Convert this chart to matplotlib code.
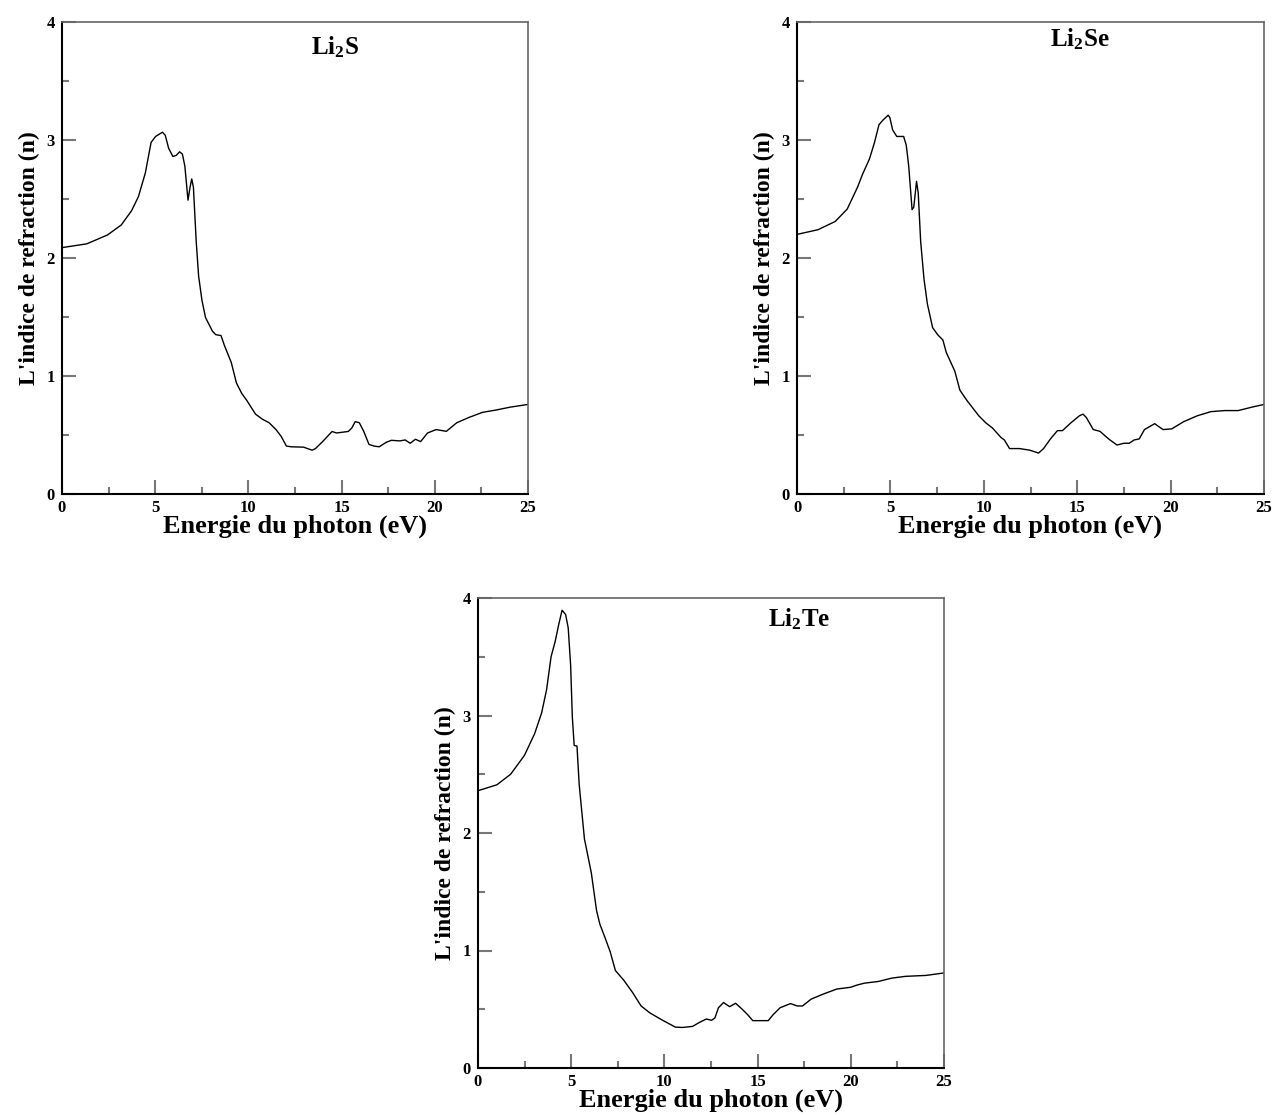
import numpy as np
import matplotlib
matplotlib.use('Agg')
import matplotlib.pyplot as plt

plt.rcParams['font.family'] = 'Liberation Serif'
plt.rcParams['font.weight'] = 'bold'
plt.rcParams['mathtext.fontset'] = 'custom'
plt.rcParams['mathtext.rm'] = 'Liberation Serif:bold'
plt.rcParams['mathtext.bf'] = 'Liberation Serif:bold'
plt.rcParams['mathtext.it'] = 'Liberation Serif:bold'

# Li2S
e_s = [0, 1.33, 2.44, 3.18, 3.73, 4.1, 4.47, 4.78, 5.02, 5.39, 5.54, 5.72, 5.95, 6.13,
       6.31, 6.46, 6.59, 6.76, 6.87, 6.96, 7.05, 7.2, 7.33, 7.51, 7.7, 8.07, 8.25, 8.53,
       8.71, 9.08, 9.36, 9.64, 9.91, 10.38, 10.75, 11.11, 11.48, 11.76, 12.04, 12.31,
       12.96, 13.42, 13.6, 13.98, 14.49, 14.72, 15.36, 15.55, 15.73, 15.95, 16.19, 16.47,
       16.75, 17.02, 17.39, 17.67, 18.13, 18.41, 18.68, 18.96, 19.24, 19.61, 20.07, 20.62,
       21.18, 21.82, 22.56, 23.3, 24.04, 25]
n_s = [2.088, 2.12, 2.195, 2.28, 2.40, 2.52, 2.72, 2.98, 3.03, 3.066, 3.04, 2.93, 2.86, 2.87,
       2.90, 2.88, 2.78, 2.49, 2.60, 2.67, 2.60, 2.14, 1.845, 1.64, 1.495, 1.38, 1.35, 1.343,
       1.26, 1.115, 0.94, 0.853, 0.794, 0.677, 0.634, 0.604, 0.546, 0.488, 0.406, 0.40,
       0.397, 0.371, 0.385, 0.444, 0.53, 0.517, 0.53, 0.56, 0.613, 0.604, 0.53, 0.42,
       0.406, 0.40, 0.438, 0.455, 0.45, 0.458, 0.43, 0.464, 0.444, 0.517, 0.546, 0.531,
       0.604, 0.648, 0.692, 0.712, 0.736, 0.759]

# Li2Se
e_se = [0, 1.13, 2.05, 2.69, 3.24, 3.51, 3.88, 4.15, 4.39, 4.61, 4.88, 4.97, 5.12, 5.34,
        5.52, 5.71, 5.85, 5.98, 6.16, 6.25, 6.4, 6.49, 6.62, 6.8, 6.98, 7.26, 7.53, 7.81,
        7.99, 8.45, 8.72, 9.09, 9.73, 10.1, 10.46, 10.92, 11.1, 11.38, 11.92, 12.47, 12.93,
        13.2, 13.57, 13.94, 14.21, 14.67, 15.12, 15.31, 15.49, 15.86, 16.22, 16.68, 17.13,
        17.5, 17.78, 18.05, 18.32, 18.6, 19.15, 19.33, 19.6, 20.06, 20.7, 21.43, 22.16,
        22.89, 23.62, 24.35, 25]
n_se = [2.20, 2.24, 2.31, 2.415, 2.60, 2.71, 2.84, 2.98, 3.13, 3.17, 3.21, 3.19, 3.086, 3.03,
        3.03, 3.03, 2.955, 2.78, 2.41, 2.43, 2.65, 2.55, 2.14, 1.82, 1.61, 1.41, 1.35, 1.305,
        1.20, 1.04, 0.88, 0.794, 0.663, 0.604, 0.56, 0.479, 0.458, 0.385, 0.385, 0.371, 0.347,
        0.385, 0.467, 0.537, 0.537, 0.604, 0.663, 0.677, 0.648, 0.546, 0.531, 0.467, 0.415,
        0.43, 0.43, 0.458, 0.467, 0.546, 0.596, 0.575, 0.546, 0.552, 0.613, 0.663, 0.698,
        0.707, 0.707, 0.736, 0.759]

# Li2Te
e_te = [0, 1.01, 1.75, 2.49, 3.04, 3.41, 3.68, 3.92, 4.14, 4.33, 4.51, 4.7, 4.84, 4.97,
        5.06, 5.16, 5.31, 5.43, 5.71, 6.08, 6.36, 6.54, 6.82, 7.09, 7.37, 7.83, 8.29, 8.75,
        9.21, 9.86, 10.59, 10.96, 11.51, 11.88, 12.25, 12.53, 12.71, 12.9, 13.17, 13.5,
        13.82, 14.18, 14.46, 14.74, 15.2, 15.57, 15.84, 16.21, 16.76, 17.13, 17.41, 17.87,
        18.52, 19.25, 19.99, 20.36, 20.73, 21.46, 22.2, 22.93, 24.04, 25]
n_te = [2.36, 2.41, 2.50, 2.66, 2.846, 3.02, 3.22, 3.50, 3.63, 3.774, 3.896, 3.86, 3.745, 3.426,
        2.99, 2.745, 2.74, 2.41, 1.95, 1.66, 1.34, 1.223, 1.107, 0.99, 0.83, 0.745, 0.643, 0.528,
        0.47, 0.41, 0.348, 0.345, 0.354, 0.388, 0.417, 0.406, 0.426, 0.513, 0.557, 0.522,
        0.551, 0.499, 0.455, 0.403, 0.403, 0.403, 0.455, 0.513, 0.548, 0.528, 0.528, 0.586,
        0.629, 0.672, 0.687, 0.707, 0.722, 0.736, 0.765, 0.78, 0.788, 0.809]

labels = [r'Li$_2$S', r'Li$_2$Se', r'Li$_2$Te']
xlab = 'Energie du photon (eV)'
ylab = "L'indice de refraction (n)"

W, H = 1275, 1115
fig = plt.figure(figsize=(W / 100, H / 100), dpi=100)

boxes = [(62, 22, 528, 494), (797, 22, 1264, 494), (478, 598, 944, 1068)]
lab_pos = [(0.585, 0.932), (0.606, 0.949), (0.689, 0.939)]
data = [(e_s, n_s), (e_se, n_se), (e_te, n_te)]

for (x0, y0, x1, y1), (e, n), lab, lp in zip(boxes, data, labels, lab_pos):
    ax = fig.add_axes([x0 / W, 1 - y1 / H, (x1 - x0) / W, (y1 - y0) / H])
    ax.plot(e, n, color='black', lw=1.0)
    ax.set_xlim(0, 25)
    ax.set_ylim(0, 4)
    ax.set_xticks([0, 5, 10, 15, 20, 25])
    ax.set_xticks(np.arange(0, 25.1, 2.5), minor=True)
    ax.set_yticks([0, 1, 2, 3, 4])
    ax.set_yticks(np.arange(0, 4.1, 0.5), minor=True)
    ax.tick_params(which='both', direction='in', color='#777777', width=1.5,
                   labelsize=12)
    ax.tick_params(axis='x', which='both', pad=4)
    ax.tick_params(axis='y', which='both', pad=5)
    ax.tick_params(which='major', length=10)
    ax.tick_params(which='minor', length=5)
    for s in ['left', 'bottom']:
        ax.spines[s].set_color('black')
        ax.spines[s].set_linewidth(1.5)
    for s in ['top', 'right']:
        ax.spines[s].set_color('#666666')
        ax.spines[s].set_linewidth(1.2)
    for t in ax.get_xticklabels() + ax.get_yticklabels():
        t.set_fontweight('bold')
    ax.set_xlabel(xlab, fontsize=19, fontweight='bold', labelpad=-1)
    ax.set_ylabel(ylab, fontsize=17, fontweight='bold', labelpad=5)
    ax.text(lp[0], lp[1], lab, transform=ax.transAxes, fontsize=18,
            fontweight='bold', ha='center', va='baseline')

fig.savefig('out.png', dpi=100)
